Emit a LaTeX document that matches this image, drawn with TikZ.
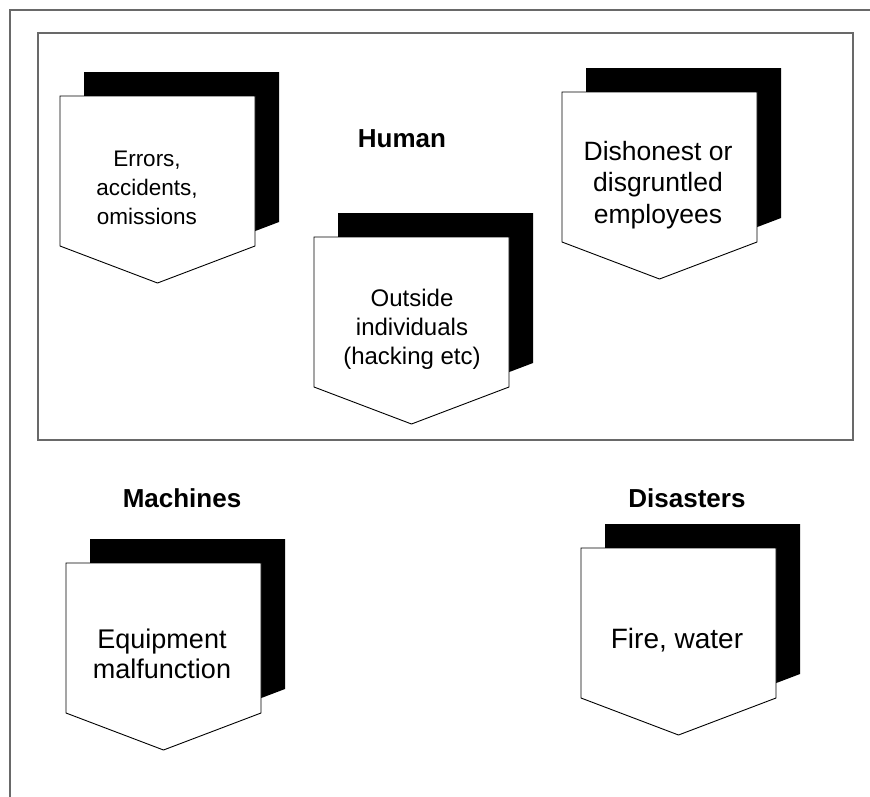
\documentclass[tikz,border=0pt]{standalone}
\usepackage{fontspec}
\setmainfont{Liberation Sans}
\definecolor{framegray}{RGB}{105,105,105}
\tikzset{
  frameline/.style={draw=framegray,line width=1.4pt},
  shadowfill/.style={fill=black},
  pentawhite/.style={fill=white,draw=black,line width=0.9pt,line join=miter},
  bodytext/.style={anchor=base,inner sep=0pt},
  headtext/.style={anchor=base,inner sep=0pt,font=\fontsize{26}{30}\selectfont\bfseries},
}
\newcommand\pentabox[2]{%
  \fill[shadowfill] (#1+24,#2-24) -- ++(195,0) -- ++(0,150) -- ++(-97.5,37) -- ++(-97.5,-37) -- cycle;
  \filldraw[pentawhite] (#1,#2) -- ++(195,0) -- ++(0,150) -- ++(-97.5,37) -- ++(-97.5,-37) -- cycle;
}
\newcommand\stack[1]{\begin{tabular}[t]{@{}c@{}}#1\end{tabular}}
\begin{document}
\begin{tikzpicture}[x=1pt,y=-1pt]
\useasboundingbox (0,0) rectangle (870,796);
\fill[white] (0,0) rectangle (870,796);
% outer frame (only top and left visible)
\draw[frameline] (10,800) -- (10,10) -- (875,10);
% inner frame
\draw[frameline] (38,33) rectangle (853,440);
% boxes
\pentabox{60}{96}
\pentabox{314}{237}
\pentabox{562}{92}
\pentabox{66}{563}
\pentabox{581}{548}
% texts
\node[headtext] (human) at (402,147) {Human};
\node[headtext] (machines) at (182,507) {Machines};
\node[headtext] (disasters) at (687,507) {Disasters};
\node[bodytext,font=\fontsize{22.5}{29}\selectfont] (errors) at (147,166) {\stack{Errors,\\accidents,\\omissions}};
\node[bodytext,font=\fontsize{24}{29}\selectfont] (outside) at (412,306) {\stack{Outside\\individuals\\(hacking etc)}};
\node[bodytext,font=\fontsize{26.5}{31.5}\selectfont] (dishonest) at (658,160) {\stack{Dishonest or\\disgruntled\\employees}};
\node[bodytext,font=\fontsize{27}{30}\selectfont] (equipment) at (162,648) {\stack{Equipment\\malfunction}};
\node[bodytext,font=\fontsize{28}{30}\selectfont] (fire) at (677,648) {Fire, water};
\end{tikzpicture}
\end{document}
